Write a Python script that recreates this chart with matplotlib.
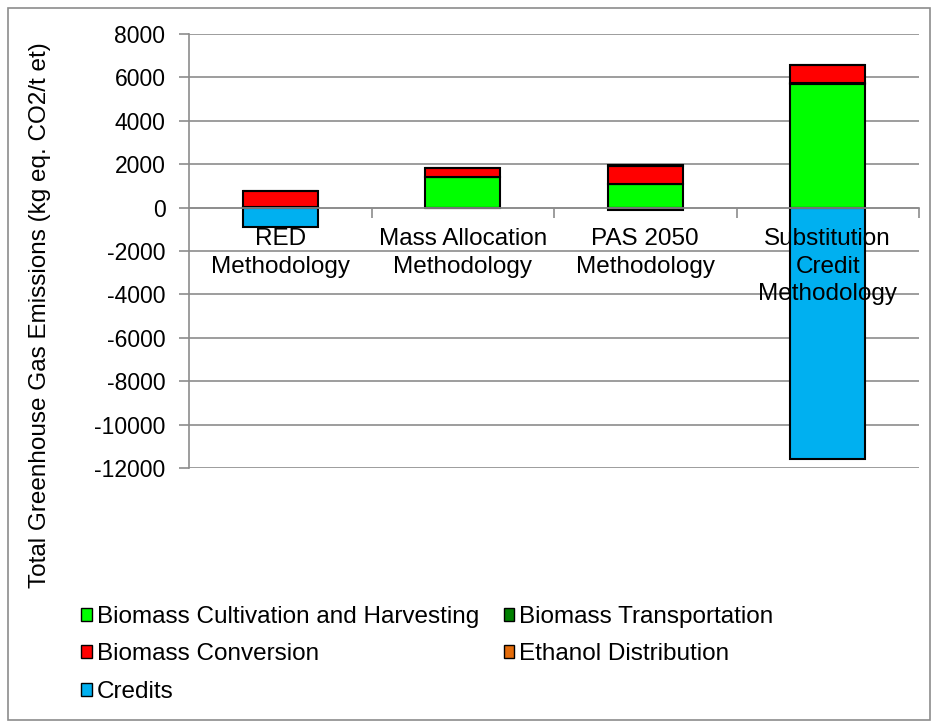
import matplotlib.pyplot as plt
from matplotlib.patches import Patch, Rectangle
from matplotlib.ticker import FixedLocator

plt.rcParams['font.family'] = ['Liberation Sans', 'DejaVu Sans']
plt.rcParams['axes.unicode_minus'] = False

# Data
methods = ['RED\nMethodology', 'Mass Allocation\nMethodology', 'PAS 2050\nMethodology',
           'Substitution\nCredit\nMethodology']
cultivation = [0, 1420, 1100, 5710]
transportation = [10, 10, 10, 10]
conversion = [770, 410, 830, 830]
distribution = [5, 5, 5, 5]
credits = [-880, 0, -110, -11600]

series_names = ['Biomass Cultivation and Harvesting', 'Biomass Transportation',
                'Biomass Conversion', 'Ethanol Distribution', 'Credits']
colors = ['#00FF00', '#008000', '#FF0000', '#E46C0A', '#00B0F0']

FS = 17.5

fig = plt.figure(figsize=(9.38, 7.27), dpi=100)
ax = fig.add_axes([189 / 938, 1 - 468 / 727, (919 - 189) / 938, (468 - 34) / 727])

x = list(range(len(methods)))
w = 0.41
edge = dict(edgecolor='black', linewidth=1.5)

bottom = [0] * len(methods)
for vals, col in [(cultivation, colors[0]), (transportation, colors[1]),
                  (conversion, colors[2]), (distribution, colors[3])]:
    ax.bar(x, vals, w, bottom=bottom, color=col, **edge)
    bottom = [b + v for b, v in zip(bottom, vals)]
ax.bar(x, credits, w, color=colors[4], **edge)

ax.set_xlim(-0.5, len(methods) - 0.5)
ax.set_ylim(-12000, 8000)
ax.set_yticks(range(-12000, 8001, 2000))
ax.set_axisbelow(True)
ax.yaxis.grid(True, color='#8C8C8C', linewidth=1.2)

for s in ['top', 'right']:
    ax.spines[s].set_visible(False)
ax.spines['left'].set_color('#8C8C8C')
ax.spines['left'].set_linewidth(1.2)
ax.spines['bottom'].set_position(('data', 0))
ax.spines['bottom'].set_color('#8C8C8C')
ax.spines['bottom'].set_linewidth(1.2)
ax.spines['bottom'].set_zorder(2.5)

ax.set_xticks(x)
ax.set_xticklabels(methods, fontsize=FS, linespacing=1.3)
ax.xaxis.set_minor_locator(FixedLocator([i + 0.5 for i in x]))
ax.tick_params(axis='x', which='major', length=0, pad=15)
ax.tick_params(axis='x', which='minor', length=7, width=1.2, color='#8C8C8C', direction='out')
ax.tick_params(axis='y', length=7, width=1.2, color='#8C8C8C', labelsize=16.5, pad=10)
ax.xaxis.set_zorder(3)

fig.text(40 / 938, 1 - 315 / 727, 'Total Greenhouse Gas Emissions (kg eq. CO2/t et)',
         rotation=90, ha='center', va='center', fontsize=FS)

handles = [Patch(facecolor=c, edgecolor='black', linewidth=1) for c in colors]
order = [0, 2, 4, 1, 3]
fig.legend([handles[i] for i in order], [series_names[i] for i in order],
           loc='upper left', bbox_to_anchor=(69 / 938, 1 - 594 / 727), ncol=2,
           frameon=False, fontsize=FS, handlelength=0.45, handleheight=0.45,
           handletextpad=0.2, labelspacing=0.63, columnspacing=1.0, borderpad=0)

fig.add_artist(Rectangle((8 / 938, 7 / 727), 922 / 938, 712 / 727, transform=fig.transFigure,
                         fill=False, edgecolor='#8C8C8C', linewidth=1.2))

fig.savefig('out.png', dpi=100)
